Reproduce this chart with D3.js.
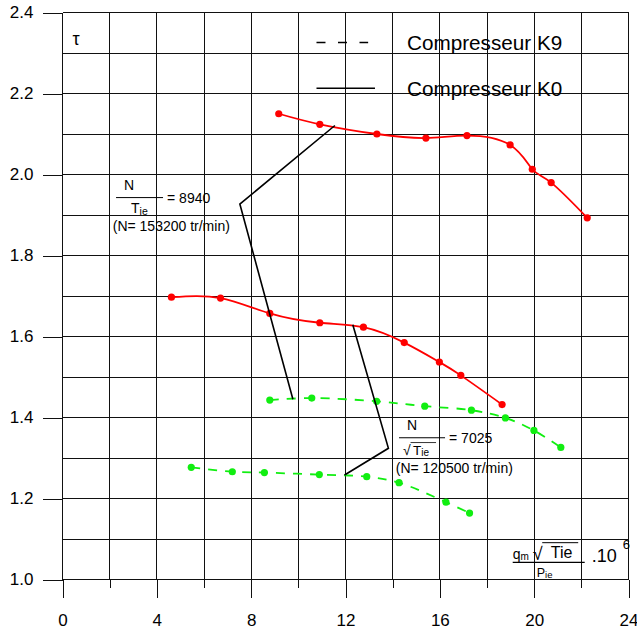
<!DOCTYPE html>
<html><head><meta charset="utf-8">
<script src="https://cdn.jsdelivr.net/npm/d3@7"></script>
<style>body{margin:0;background:#fff}svg{display:block}text{font-family:"Liberation Sans",Arial,sans-serif;fill:#000}</style>
</head><body><svg id="c" width="637" height="630"></svg>
<script>
// ---- data ----
const xTicks = [0,4,8,12,16,20,24];
const yTicks = [1.0,1.2,1.4,1.6,1.8,2.0,2.2,2.4];
const legendLabels = ["Compresseur K9","Compresseur K0"];
// K0 (solid red) high speed N=153200
const k0HighX = [9.17,10.91,13.33,15.41,17.15,18.98,19.92,20.72,22.25];
const k0HighY = [2.150,2.124,2.100,2.090,2.096,2.073,2.013,1.980,1.893];
// K0 (solid red) low speed N=120500
const k0LowX = [4.62,6.70,8.79,10.91,12.76,14.49,15.98,16.89,18.64];
const k0LowY = [1.697,1.695,1.657,1.634,1.623,1.585,1.537,1.504,1.432];
// K9 (dashed green) high speed
const k9HighX = [8.79,10.57,13.32,15.36,17.34,18.78,19.99,21.13];
const k9HighY = [1.443,1.448,1.440,1.428,1.418,1.399,1.368,1.326];
// K9 (dashed green) low speed
const k9LowX = [5.46,7.20,8.56,10.89,12.90,14.27,16.26,17.26];
const k9LowY = [1.277,1.266,1.264,1.259,1.254,1.239,1.191,1.164];
// iso-speed guide lines (black)
const isoHighX = [11.55,7.52,9.77];
const isoHighY = [2.121,1.927,1.445];
const isoLowX = [12.31,13.82,11.96];
const isoLowY = [1.629,1.324,1.258];

const svg = d3.select("#c");
const x = d3.scaleLinear().domain([0,24]).range([62.5,628.5]);
const y = d3.scaleLinear().domain([1.0,2.4]).range([579.5,12.5]);
const zip = (a,b)=>a.map((v,i)=>[v,b[i]]);

// ---- grid ----
const g = svg.append("g").attr("stroke","#111").attr("stroke-width",1).attr("shape-rendering","crispEdges");
d3.range(0,24.01,2).forEach(v=>{
  g.append("line").attr("x1",x(v)).attr("x2",x(v)).attr("y1",y(2.4)).attr("y2",y(1.0));
});
d3.range(10,24.5,1).forEach(k=>{
  const v=k/10;
  g.append("line").attr("x1",x(0)).attr("x2",x(24)).attr("y1",y(v)).attr("y2",y(v));
});
// ---- axes ----
svg.append("g").attr("transform",`translate(0,${y(1.0)})`)
  .call(d3.axisBottom(x).tickValues(xTicks).tickSize(18).tickPadding(16).tickFormat(d3.format("d")));
svg.append("g").attr("transform",`translate(0,${y(1.0)})`)
  .call(d3.axisBottom(x).tickValues([2,6,10,14,18,22]).tickSize(8).tickFormat(""));
svg.append("g").attr("transform",`translate(${x(0)},0)`)
  .call(d3.axisLeft(y).tickValues(yTicks).tickSize(20).tickPadding(9).tickFormat(d3.format(".1f")));
svg.selectAll(".domain").remove();
svg.selectAll(".tick line").attr("stroke","#111").attr("shape-rendering","crispEdges");
svg.selectAll(".tick text").attr("font-size",17).attr("font-family","Liberation Sans, Arial, sans-serif").attr("fill","#000");

// ---- curves ----
const line = d3.line().x(d=>x(d[0])).y(d=>y(d[1]));
function series(xs,ys,color,dashed){
  const data=zip(xs,ys);
  svg.append("path").datum(data).attr("fill","none").attr("stroke",color)
    .attr("stroke-width",1.8).attr("stroke-dasharray",dashed?"9,8":null)
    .attr("d",line.curve(dashed?d3.curveCatmullRom:d3.curveNatural));
  svg.append("g").selectAll("circle").data(data).join("circle")
    .attr("cx",d=>x(d[0])).attr("cy",d=>y(d[1])).attr("r",3.6).attr("fill",color);
}
series(k0HighX,k0HighY,"#ff0000",false);
series(k0LowX,k0LowY,"#ff0000",false);
series(k9HighX,k9HighY,"#11ee11",true);
series(k9LowX,k9LowY,"#11ee11",true);

const lin = d3.line().x(d=>x(d[0])).y(d=>y(d[1]));
[[isoHighX,isoHighY],[isoLowX,isoLowY]].forEach(([a,b])=>{
  svg.append("path").datum(zip(a,b)).attr("fill","none").attr("stroke","#000").attr("stroke-width",1.6).attr("d",lin);
});

// ---- legend ----
const lg = svg.append("g");
lg.append("line").attr("x1",x(10.77)).attr("x2",x(12.96)).attr("y1",y(2.326)).attr("y2",y(2.326))
  .attr("stroke","#000").attr("stroke-width",1.6).attr("stroke-dasharray","9,12.5");
lg.append("line").attr("x1",x(10.77)).attr("x2",x(13.25)).attr("y1",y(2.213)).attr("y2",y(2.213))
  .attr("stroke","#000").attr("stroke-width",1.6);
lg.append("text").attr("x",x(14.61)).attr("y",y(2.326)+7.3).attr("font-size",20.7).text(legendLabels[0]);
lg.append("text").attr("x",x(14.61)).attr("y",y(2.213)+7.3).attr("font-size",20.7).text(legendLabels[1]);

// tau
svg.append("text").attr("x",x(0)+10).attr("y",y(2.4)+32).attr("font-size",18).text("τ");

// ---- annotations ----
function annot(ax0,ay0,w,eq,sqrt,nText){
  const a = svg.append("g").attr("transform",`translate(${x(ax0)},${y(ay0)})`);
  a.append("line").attr("x1",0).attr("x2",w).attr("y1",0).attr("y2",0).attr("stroke","#000").attr("stroke-width",1);
  a.append("text").attr("x",13).attr("y",-8).attr("font-size",14).attr("text-anchor","middle").text("N");
  a.append("text").attr("x",w+4).attr("y",5).attr("font-size",14).text(eq);
  if(sqrt){
    a.append("text").attr("x",4).attr("y",17.5).attr("font-size",14).text("√");
    a.append("line").attr("x1",11.5).attr("x2",37).attr("y1",4.8).attr("y2",4.8).attr("stroke","#000").attr("stroke-width",0.8);
    const t=a.append("text").attr("x",14).attr("y",17.5).attr("font-size",13.5);
    t.append("tspan").text("T"); t.append("tspan").attr("font-size",10).attr("dy",1).text("ie");
  } else {
    const t=a.append("text").attr("x",15).attr("y",15.5).attr("font-size",14);
    t.append("tspan").text("T"); t.append("tspan").attr("font-size",10.5).attr("dy",1.5).text("ie");
  }
  a.append("text").attr("x",-3.3).attr("y",sqrt?35:33).attr("font-size",14).text(nText);
}
annot(2.27,1.943,47,"= 8940",false,"(N= 153200 tr/min)");
annot(14.27,1.350,46,"= 7025",true,"(N= 120500 tr/min)");

// ---- x axis label ----
const xl = svg.append("g").attr("transform",`translate(${x(19.09)},${y(1.0425)})`);
xl.append("line").attr("x1",0).attr("x2",72).attr("y1",0).attr("y2",0).attr("stroke","#000").attr("stroke-width",1.2);
const q = xl.append("text").attr("x",0).attr("y",-3.5).attr("font-size",14);
q.append("tspan").text("q"); q.append("tspan").attr("font-size",10).attr("dy",1).text("m");
xl.append("text").attr("x",20).attr("y",-2.5).attr("font-size",18).text("√");
xl.append("line").attr("x1",29.5).attr("x2",65.5).attr("y1",-19.6).attr("y2",-19.6).attr("stroke","#000").attr("stroke-width",1);
xl.append("text").attr("x",38).attr("y",-4).attr("font-size",16).text("Tie");
const p = xl.append("text").attr("x",24).attr("y",14.4).attr("font-size",12.5);
p.append("tspan").text("P"); p.append("tspan").attr("font-size",9.5).attr("dy",1).text("ie");
xl.append("text").attr("x",79).attr("y",-0.6).attr("font-size",18).text(".10");
xl.append("text").attr("x",110).attr("y",-13.5).attr("font-size",13).text("6");
</script></body></html>
